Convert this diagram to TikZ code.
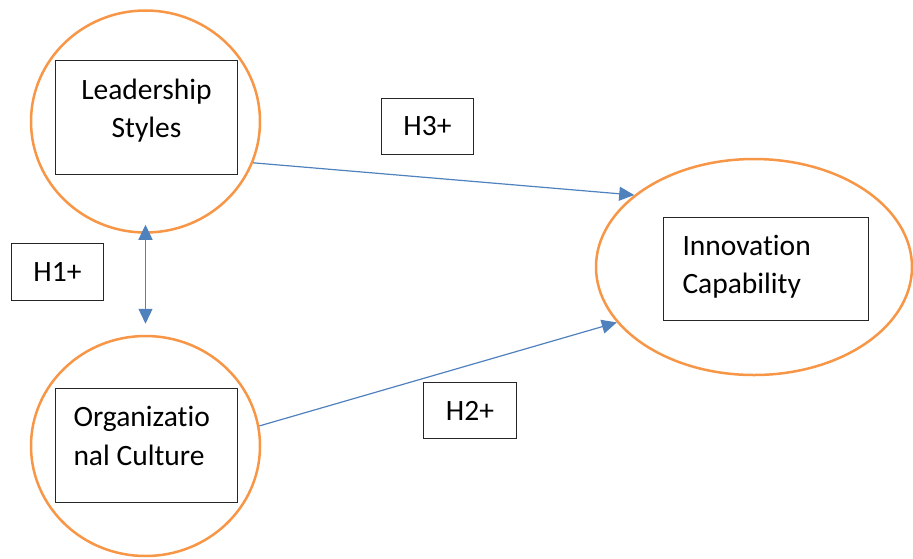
\documentclass[tikz,border=0pt]{standalone}
\usepackage{fontspec}
\setmainfont{Carlito}[Ligatures=NoCommon]
\usetikzlibrary{shapes.geometric,arrows.meta}
\definecolor{corange}{HTML}{F79646}
\definecolor{cblue}{HTML}{4F81BD}
\newcommand{\topgap}[1]{\vphantom{\rule{1pt}{#1}}}
\begin{document}
\begin{tikzpicture}[x=1pt,y=-1pt,
  oval/.style={ellipse, draw=corange, line width=2.5pt, inner sep=0pt},
  box/.style={draw=black!85, line width=1.3pt, inner sep=0pt, font=\fontsize{29.5}{38}\selectfont},
  hbox/.style={draw=black!85, line width=1.3pt, inner sep=0pt, font=\fontsize{29.5}{38}\selectfont},
  tipA/.tip={Triangle[length=15pt,width=14pt]},
  link/.style={draw=cblue, line width=1.2pt, -tipA}]
\useasboundingbox (0,0) rectangle (913,558);
% ovals
\node[oval, minimum width=229pt, minimum height=222pt] (lsc) at (145.5,121.5) {};
\node[oval, minimum width=229pt, minimum height=220pt] (occ) at (145.5,446) {};
\node[oval, minimum width=316pt, minimum height=216pt] (ic) at (754,267) {};
% boxes
\node[box] (lsb) at (146.5,117.5) {\parbox[c][114pt][t]{182pt}{\centering\topgap{38.5pt}Leadership\\Styles}};
\node[box] (ocb) at (146.5,445.5) {\parbox[c][114pt][t]{182pt}{\fontsize{29.5}{39.5}\selectfont\raggedright\leftskip=18pt\topgap{37.5pt}Organizatio\\nal Culture}};
\node[box] (icb) at (766,269) {\parbox[c][103pt][t]{205pt}{\raggedright\leftskip=19pt\topgap{37.5pt}Innovation\\Capability}};
% hypothesis labels
\node[hbox, minimum width=92pt, minimum height=56pt] (h3) at (427.5,126.5) {H3+};
\node[hbox, minimum width=92pt, minimum height=57pt] (h1) at (57.5,272) {H1+};
\node[hbox, minimum width=93pt, minimum height=56pt] (h2) at (470,410.5) {H2+};
% connectors
\draw[link] (lsc.-21) -- (ic.149);
\draw[link] (occ.10) -- (ic.-158);
\draw[link, tipA-tipA] ([yshift=9pt]lsc.south) -- ([yshift=11pt]occ.north);
\end{tikzpicture}
\end{document}
